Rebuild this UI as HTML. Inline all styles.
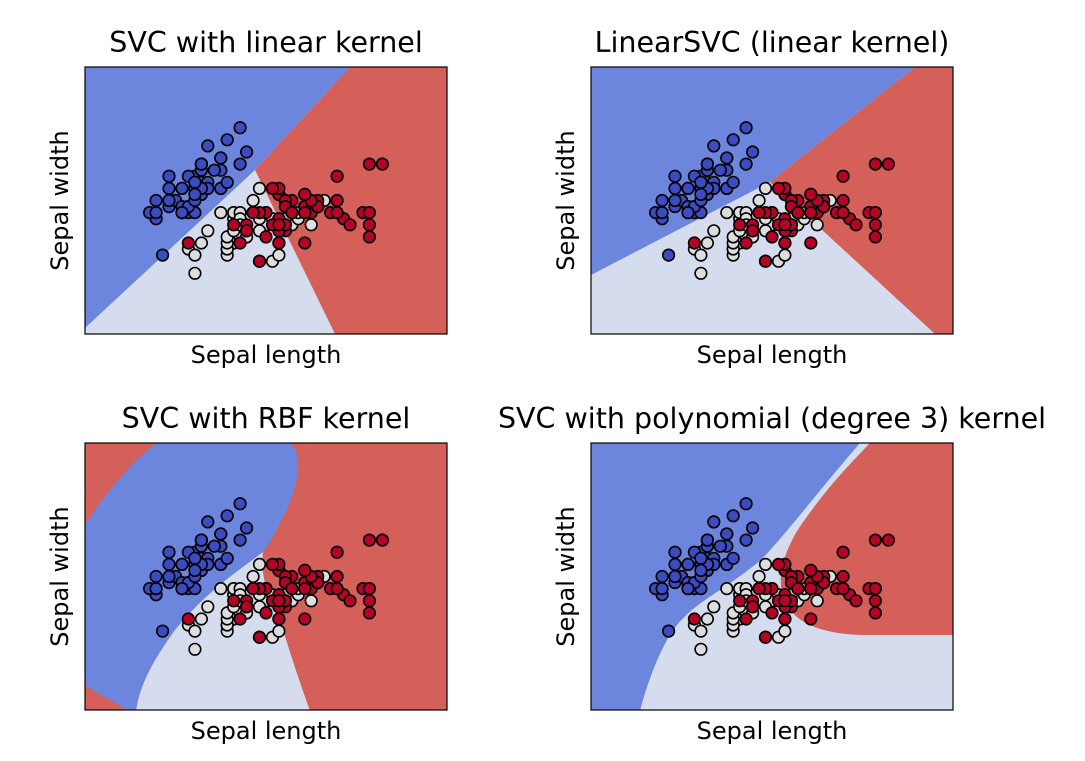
<!DOCTYPE html>
<html><head><meta charset="utf-8"><style>
body{margin:0;background:#fff;}
svg{display:block;font-family:"DejaVu Sans","Liberation Sans",sans-serif;}
</style></head><body>
<svg id="chart" width="1085" height="761"></svg>
<script>
// Iris sepal length / width and classes
const sepalLength = [5.1,4.9,4.7,4.6,5.0,5.4,4.6,5.0,4.4,4.9,5.4,4.8,4.8,4.3,5.8,5.7,5.4,5.1,5.7,5.1,5.4,5.1,4.6,5.1,4.8,5.0,5.0,5.2,5.2,4.7,4.8,5.4,5.2,5.5,4.9,5.0,5.5,4.9,4.4,5.1,5.0,4.5,4.4,5.0,5.1,4.8,5.1,4.6,5.3,5.0,
7.0,6.4,6.9,5.5,6.5,5.7,6.3,4.9,6.6,5.2,5.0,5.9,6.0,6.1,5.6,6.7,5.6,5.8,6.2,5.6,5.9,6.1,6.3,6.1,6.4,6.6,6.8,6.7,6.0,5.7,5.5,5.5,5.8,6.0,5.4,6.0,6.7,6.3,5.6,5.5,5.5,6.1,5.8,5.0,5.6,5.7,5.7,6.2,5.1,5.7,
6.3,5.8,7.1,6.3,6.5,7.6,4.9,7.3,6.7,7.2,6.5,6.4,6.8,5.7,5.8,6.4,6.5,7.7,7.7,6.0,6.9,5.6,7.7,6.3,6.7,7.2,6.2,6.1,6.4,7.2,7.4,7.9,6.4,6.3,6.1,7.7,6.3,6.4,6.0,6.9,6.7,6.9,5.8,6.8,6.7,6.7,6.3,6.5,6.2,5.9];
const sepalWidth = [3.5,3.0,3.2,3.1,3.6,3.9,3.4,3.4,2.9,3.1,3.7,3.4,3.0,3.0,4.0,4.4,3.9,3.5,3.8,3.8,3.4,3.7,3.6,3.3,3.4,3.0,3.4,3.5,3.4,3.2,3.1,3.4,4.1,4.2,3.1,3.2,3.5,3.6,3.0,3.4,3.5,2.3,3.2,3.5,3.8,3.0,3.8,3.2,3.7,3.3,
3.2,3.2,3.1,2.3,2.8,2.8,3.3,2.4,2.9,2.7,2.0,3.0,2.2,2.9,2.9,3.1,3.0,2.7,2.2,2.5,3.2,2.8,2.5,2.8,2.9,3.0,2.8,3.0,2.9,2.6,2.4,2.4,2.7,2.7,3.0,3.4,3.1,2.3,3.0,2.5,2.6,3.0,2.6,2.3,2.7,3.0,2.9,2.9,2.5,2.8,
3.3,2.7,3.0,2.9,3.0,3.0,2.5,2.9,2.5,3.6,3.2,2.7,3.0,2.5,2.8,3.2,3.0,3.8,2.6,2.2,3.2,2.8,2.8,2.7,3.3,3.2,2.8,3.0,2.8,3.0,2.8,3.8,2.8,2.8,2.6,3.0,3.4,3.1,3.0,3.1,3.1,3.1,2.7,3.2,3.3,3.0,2.5,3.0,3.4,3.0];
const species = [];
for (let i=0;i<150;i++) species.push(i<50?0:(i<100?1:2));
const panelTitles = ["SVC with linear kernel","LinearSVC (linear kernel)","SVC with RBF kernel","SVC with polynomial (degree 3) kernel"];
const xDomain = [3.3, 8.9];
const yDomain = [1.0, 5.4];

const NS="http://www.w3.org/2000/svg";
const svg=document.getElementById('chart');
const pointColors=["#3b4cc0","#dddddd","#b40426"];
const BLUE="#6c86dd", LIGHT="#d4dcee", RED="#d5605a";
const panels=[{x:85,y:67},{x:591,y:67},{x:85,y:443},{x:591,y:443}];
const PW=362, PH=267;
const regions=[
 [[BLUE,"M0,0 L265,0 L170,103 L0,261 Z"],[RED,"M265,0 L362,0 L362,267 L250,267 L170,103 Z"]],
 [[BLUE,"M0,0 L324,0 L179,115 L0,208 Z"],[RED,"M324,0 L362,0 L362,267 L344,267 L179,115 Z"]],
 [[BLUE,"M0,82 C20,50 50,15 72,0 L205,0 C218,10 215,40 200,70 C190,90 185,100 178,109 C150,130 120,150 90,187 C70,215 55,240 51,268 L43,268 C30,258 10,250 0,242 Z"],
  [LIGHT,"M178,109 C176,125 177,140 195,177 C205,210 215,240 225,268 L51,268 C55,240 70,215 90,187 C120,150 150,130 178,109 Z"]],
 [[BLUE,"M0,0 L269,0 C230,45 200,85 170,117 C130,150 100,160 80,190 C65,215 55,245 49,268 L0,268 Z"],
  [RED,"M279,0 L362,0 L362,192 L270,192 C220,190 195,175 190,145 C188,120 200,95 215,75 C240,40 260,20 279,0 Z"]]
];
function mk(tag,attrs,parent){const e=document.createElementNS(NS,tag);for(const k in attrs)e.setAttribute(k,attrs[k]);(parent||svg).appendChild(e);return e;}
const sx=v=>(v-xDomain[0])/(xDomain[1]-xDomain[0])*PW;
const sy=v=>PH-(v-yDomain[0])/(yDomain[1]-yDomain[0])*PH;

panels.forEach((p,pi)=>{
  const g=mk('g',{transform:`translate(${p.x},${p.y})`});
  
  
  const cp=mk('clipPath',{id:'cp'+pi},g); mk('rect',{x:0,y:0,width:PW,height:PH},cp);
  const bg=mk('g',{'clip-path':`url(#cp${pi})`},g);
  const base=mk('rect',{x:0,y:0,width:PW,height:PH,fill:(pi===2?RED:LIGHT)},bg);
  
  
  regions[pi].forEach(([c,d])=>{const r=mk('path',{d:d,fill:c},bg);
    
    });
  for(let i=0;i<sepalLength.length;i++){
    const c=mk('circle',{cx:sx(sepalLength[i]).toFixed(1),cy:sy(sepalWidth[i]).toFixed(1),r:5.8,fill:pointColors[species[i]],stroke:"#000","stroke-width":1.6},bg);
    
    
  }
  const fr=mk('rect',{x:0,y:0,width:PW,height:PH,fill:"none",stroke:"#000","stroke-width":1.2},g);
  
  
  const t=mk('text',{x:PW/2,y:-15,'text-anchor':'middle','font-size':28.5,fill:'#000'},g); t.textContent=panelTitles[pi];
  
  
  const xl=mk('text',{x:PW/2,y:PH+29,'text-anchor':'middle','font-size':24,fill:'#000'},g); xl.textContent="Sepal length";
  
  
  const yl=mk('text',{x:0,y:0,'text-anchor':'middle','font-size':24,fill:'#000',transform:`translate(-17,${PH/2}) rotate(-90)`},g); yl.textContent="Sepal width";
  
  
});
</script>
</body></html>
